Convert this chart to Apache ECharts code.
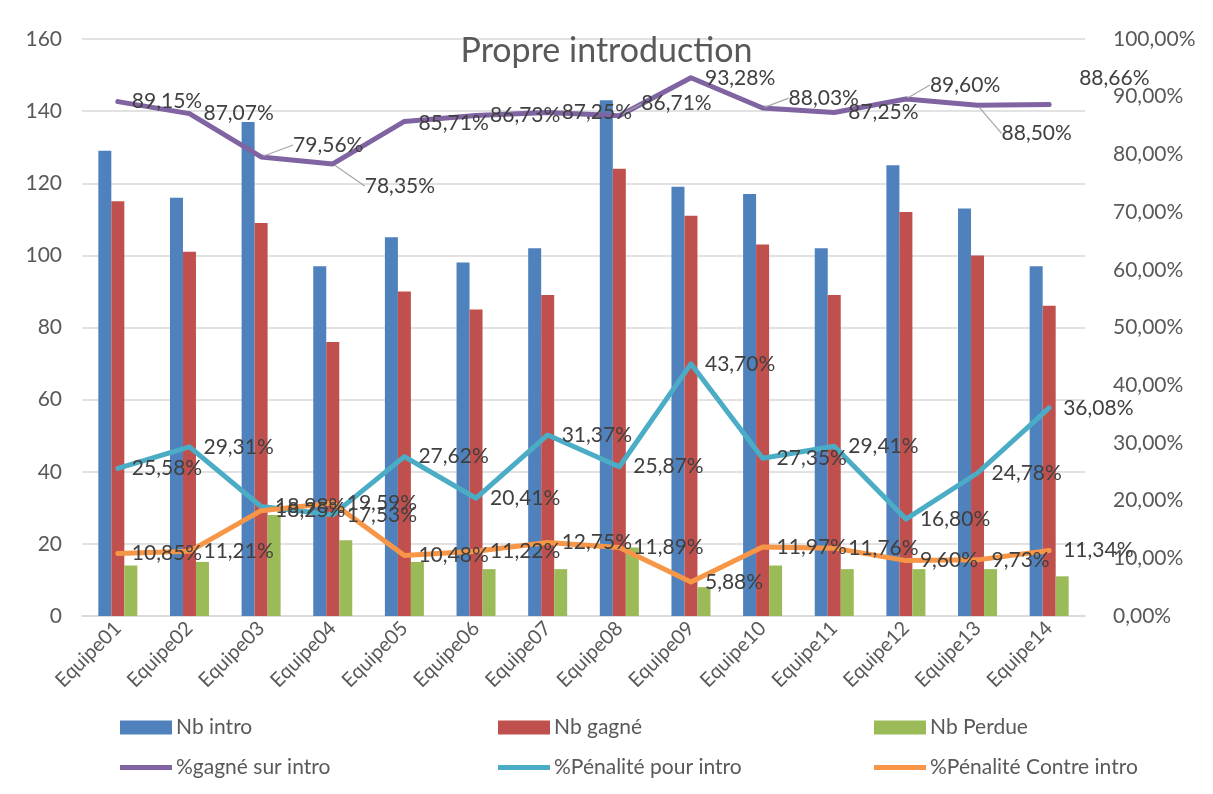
<!DOCTYPE html>
<html>
<head>
<meta charset="utf-8">
<script src="https://cdn.jsdelivr.net/npm/echarts@6/dist/echarts.min.js"></script>
<style>
html,body{margin:0;padding:0;background:#fff;}
#c{width:1213px;height:794px;}
</style>
</head>
<body>
<div id="c"></div>
<script>
var categories = ['Equipe01','Equipe02','Equipe03','Equipe04','Equipe05','Equipe06','Equipe07','Equipe08','Equipe09','Equipe10','Equipe11','Equipe12','Equipe13','Equipe14'];
var nbIntro = [129,116,137,97,105,98,102,143,119,117,102,125,113,97];
var nbGagne = [115,101,109,76,90,85,89,124,111,103,89,112,100,86];
var nbPerdue = [14,15,28,21,15,13,13,19,8,14,13,13,13,11];
var pctGagne = [89.15,87.07,79.56,78.35,85.71,86.73,87.25,86.71,93.28,88.03,87.25,89.60,88.50,88.66];
var pctPenPour = [25.58,29.31,18.98,17.53,27.62,20.41,31.37,25.87,43.70,27.35,29.41,16.80,24.78,36.08];
var pctPenContre = [10.85,11.21,18.25,19.59,10.48,11.22,12.75,11.89,5.88,11.97,11.76,9.60,9.73,11.34];
var leftTicks = {min:0,max:160,interval:20};
var rightTicks = {min:0,max:100,interval:10};

var FONT = 'Lato';
var axisColor = '#595959';
var labelColor = '#404040';
function pctFmt(v){ return v.toFixed(2).replace('.', ',') + '%'; }

// label displacement for the purple series (styling only)
var purpleOffsets = [[0,0],[0,0],[18,-12],[18,22],[0,2],[0,0],[0,0],[8,-12],[0,0],[12,-10],[0,0],[10,-14],[10,28],[16,-26]];
var purpleLines = [false,false,true,true,false,false,false,true,false,true,false,true,true,false];

var chart = echarts.init(document.getElementById('c'), null, {renderer:'canvas'});

function lineSeries(name, data, color, offsets){
  return {
    name: name, type: 'line', yAxisIndex: 1, data: data,
    symbol: 'circle', symbolSize: 4, showSymbol: true,
    itemStyle: {color: color},
    lineStyle: {color: color, width: 5, cap: 'round', join: 'round'},
    label: {show: true, position: 'right', distance: 12, color: labelColor, fontFamily: FONT, fontSize: 21,
      formatter: function(p){ return pctFmt(p.value); }},
    labelLine: {show: false, lineStyle: {color: '#a6a6a6', width: 1.2}},
    labelLayout: offsets ? function(p){ var o = offsets[p.dataIndex]; return {dx:o[0], dy:o[1]}; } : undefined,
    z: 5, animation: false
  };
}

var purple = lineSeries('%gagné sur intro', pctGagne.map(function(v,i){
  return purpleLines[i] ? {value: v, labelLine: {show: true}} : v;
}), '#8064A2', purpleOffsets);

function legendItem(name, left, top, isLine){
  return {
    data: [{name: name, icon: 'rect'}],
    left: left, top: top, padding: 0,
    itemWidth: 52, itemHeight: isLine ? 5 : 14, itemGap: 0,
    textStyle: {color: axisColor, fontFamily: FONT, fontSize: 21, padding: [0,0,0,-1]},
    selectedMode: false
  };
}

var option = {
  backgroundColor: '#fff',
  animation: false,
  title: {text: 'Propre introduction', left: 'center', top: 29,
    textStyle: {color: axisColor, fontFamily: FONT, fontSize: 34, fontWeight: 'normal'}},
  grid: {left: 82, right: 128, top: 39, bottom: 178, containLabel: false},
  legend: [
    legendItem('Nb intro', 120, 717, false),
    legendItem('Nb gagné', 498, 717, false),
    legendItem('Nb Perdue', 874, 717, false),
    legendItem('%gagné sur intro', 120, 757, true),
    legendItem('%Pénalité pour intro', 498, 757, true),
    legendItem('%Pénalité Contre intro', 874, 757, true)
  ],
  xAxis: {
    type: 'category', data: categories,
    axisLine: {show: true, lineStyle: {color: '#d9d9d9', width: 1.5}},
    axisTick: {show: false},
    axisLabel: {rotate: 45, color: axisColor, fontFamily: FONT, fontSize: 20, margin: 9, interval: 0}
  },
  yAxis: [
    {type: 'value', min: leftTicks.min, max: leftTicks.max, interval: leftTicks.interval,
      axisLine: {show: false}, axisTick: {show: false},
      splitLine: {lineStyle: {color: '#d9d9d9', width: 1.5}},
      axisLabel: {color: axisColor, fontFamily: FONT, fontSize: 21, margin: 20}},
    {type: 'value', min: rightTicks.min, max: rightTicks.max, interval: rightTicks.interval,
      axisLine: {show: false}, axisTick: {show: false}, splitLine: {show: false},
      axisLabel: {color: axisColor, fontFamily: FONT, fontSize: 21, margin: 28,
        formatter: function(v){ return pctFmt(v); }}}
  ],
  series: [
    {name: 'Nb intro', type: 'bar', data: nbIntro, barWidth: 13, barGap: '0%', itemStyle: {color: '#4F81BD'}},
    {name: 'Nb gagné', type: 'bar', data: nbGagne, barWidth: 13, barGap: '0%', itemStyle: {color: '#C0504D'}},
    {name: 'Nb Perdue', type: 'bar', data: nbPerdue, barWidth: 13, barGap: '0%', itemStyle: {color: '#9BBB59'}},
    purple,
    lineSeries('%Pénalité pour intro', pctPenPour, '#4BACC6'),
    lineSeries('%Pénalité Contre intro', pctPenContre, '#F79646')
  ]
};
chart.setOption(option);
</script>
</body>
</html>
